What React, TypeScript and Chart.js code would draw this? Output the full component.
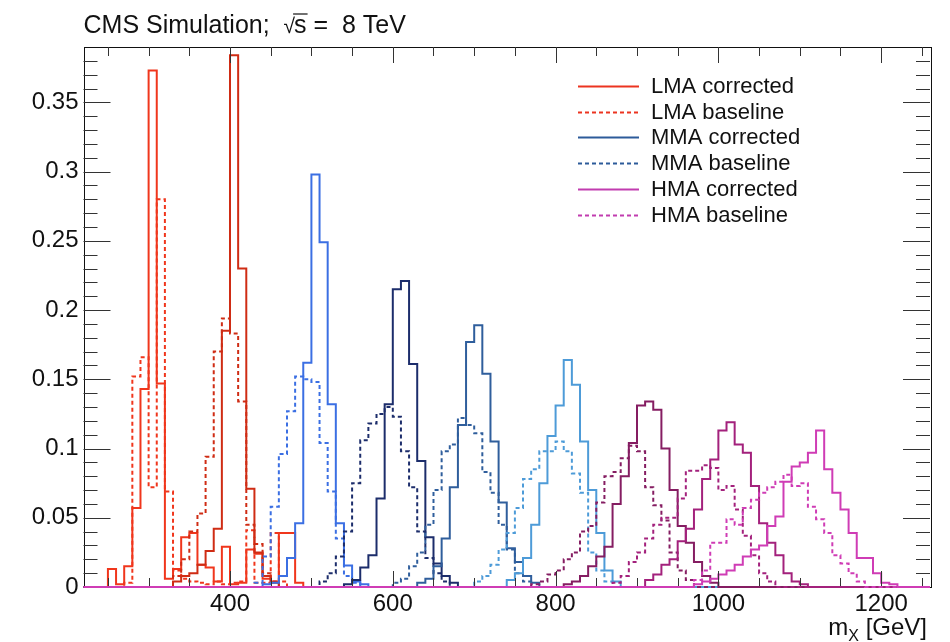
import { useEffect, useRef } from "react";
import { Chart, registerables } from "chart.js";

Chart.register(...registerables);

// Binning of the m_X histograms (GeV)
const X_MIN = 220;
const X_MAX = 1260;
const BIN_WIDTH = 10;
const Y_MAX = 0.39;

const X_TICKS = [400, 600, 800, 1000, 1200];
const Y_TICKS = [0, 0.05, 0.1, 0.15, 0.2, 0.25, 0.3, 0.35];

// Normalised distributions: one value per 10 GeV bin, starting at the *_FROM edge
const LMA300_CORR_FROM = 250;
const LMA300_CORR = [0.013, 0.002, 0.015, 0.057, 0.143, 0.373, 0.147, 0.006, 0.013, 0.036, 0.039, 0.016, 0.014, 0.004, 0.029, 0.002, 0.003, 0.027, 0.024, 0.006, 0.004, 0.039, 0.039, 0.003];
const LMA300_BASE_FROM = 270;
const LMA300_BASE = [0.003, 0.152, 0.166, 0.072, 0.28, 0.069, 0.012, 0.006, 0.004, 0.003, 0.002, 0.004, 0.002, 0.003, 0.004, 0.041, 0.003, 0.003, 0.039, 0.004];

const LMA400_CORR_FROM = 330;
const LMA400_CORR = [0.004, 0.008, 0.01, 0.016, 0.026, 0.042, 0.185, 0.384, 0.23, 0.071, 0.025, 0.008, 0.003];
const LMA400_BASE_FROM = 330;
const LMA400_BASE = [0.008, 0.02, 0.04, 0.053, 0.094, 0.17, 0.194, 0.183, 0.134, 0.045, 0.031, 0.01, 0.004];

const MMA500_CORR_FROM = 440;
const MMA500_CORR = [0.002, 0.003, 0.008, 0.021, 0.046, 0.162, 0.298, 0.249, 0.132, 0.046, 0.0155, 0.004, 0.002];
const MMA500_BASE_FROM = 430;
const MMA500_BASE = [0.003, 0.022, 0.058, 0.096, 0.127, 0.152, 0.15, 0.148, 0.104, 0.069, 0.035, 0.008, 0.003];

const MMA600_CORR_FROM = 540;
const MMA600_CORR = [0.002, 0.005, 0.014, 0.023, 0.064, 0.132, 0.215, 0.221, 0.161, 0.091, 0.036, 0.017, 0.008, 0.003];
const MMA600_BASE_FROM = 510;
const MMA600_BASE = [0.004, 0.01, 0.022, 0.04, 0.075, 0.106, 0.118, 0.125, 0.13, 0.123, 0.098, 0.072, 0.04, 0.021, 0.01, 0.004];

const MMA700_CORR_FROM = 630;
const MMA700_CORR = [0.003, 0.006, 0.015, 0.035, 0.072, 0.117, 0.177, 0.189, 0.154, 0.105, 0.061, 0.028, 0.018, 0.008, 0.003];
const MMA700_BASE_FROM = 600;
const MMA700_BASE = [0.003, 0.006, 0.015, 0.025, 0.045, 0.07, 0.098, 0.103, 0.122, 0.117, 0.111, 0.083, 0.068, 0.045, 0.027, 0.01, 0.004];

const MMA800_CORR_FROM = 740;
const MMA800_CORR = [0.005, 0.01, 0.021, 0.045, 0.075, 0.109, 0.131, 0.164, 0.146, 0.105, 0.07, 0.039, 0.012, 0.004];
const MMA800_BASE_FROM = 700;
const MMA800_BASE = [0.004, 0.008, 0.016, 0.027, 0.039, 0.057, 0.078, 0.085, 0.098, 0.098, 0.105, 0.098, 0.082, 0.068, 0.025, 0.012, 0.004];

const HMA900_CORR_FROM = 810;
const HMA900_CORR = [0.002, 0.004, 0.008, 0.015, 0.022, 0.029, 0.06, 0.08, 0.104, 0.131, 0.134, 0.128, 0.1, 0.07, 0.044, 0.032, 0.018, 0.008, 0.003];
const HMA900_BASE_FROM = 770;
const HMA900_BASE = [0.002, 0.004, 0.009, 0.012, 0.02, 0.025, 0.04, 0.044, 0.061, 0.08, 0.083, 0.093, 0.102, 0.098, 0.072, 0.059, 0.048, 0.025, 0.012, 0.005];

const HMA1000_CORR_FROM = 910;
const HMA1000_CORR = [0.005, 0.009, 0.016, 0.02, 0.033, 0.042, 0.056, 0.078, 0.092, 0.113, 0.119, 0.103, 0.097, 0.073, 0.046, 0.032, 0.023, 0.01, 0.004, 0.002];
const HMA1000_BASE_FROM = 870;
const HMA1000_BASE = [0.003, 0.008, 0.018, 0.025, 0.035, 0.045, 0.05, 0.05, 0.064, 0.084, 0.084, 0.088, 0.086, 0.07, 0.073, 0.056, 0.037, 0.023, 0.01, 0.004];

const HMA1100_CORR_FROM = 970;
const HMA1100_CORR = [0.002, 0.004, 0.006, 0.009, 0.012, 0.016, 0.022, 0.027, 0.03, 0.044, 0.051, 0.076, 0.087, 0.09, 0.097, 0.113, 0.085, 0.068, 0.056, 0.039, 0.021, 0.021, 0.01, 0.003, 0.002];
const HMA1100_BASE_FROM = 970;
const HMA1100_BASE = [0.005, 0.012, 0.032, 0.032, 0.049, 0.045, 0.057, 0.063, 0.068, 0.072, 0.076, 0.081, 0.073, 0.075, 0.058, 0.049, 0.039, 0.023, 0.017, 0.01, 0.004];

// Colours per mass point
const MASS_POINTS = [
  { color: "#f0361c", corrFrom: LMA300_CORR_FROM, corr: LMA300_CORR, baseFrom: LMA300_BASE_FROM, base: LMA300_BASE },
  { color: "#cf2c14", corrFrom: LMA400_CORR_FROM, corr: LMA400_CORR, baseFrom: LMA400_BASE_FROM, base: LMA400_BASE },
  { color: "#3b6fe3", corrFrom: MMA500_CORR_FROM, corr: MMA500_CORR, baseFrom: MMA500_BASE_FROM, base: MMA500_BASE },
  { color: "#1c2d6b", corrFrom: MMA600_CORR_FROM, corr: MMA600_CORR, baseFrom: MMA600_BASE_FROM, base: MMA600_BASE },
  { color: "#2f5e9c", corrFrom: MMA700_CORR_FROM, corr: MMA700_CORR, baseFrom: MMA700_BASE_FROM, base: MMA700_BASE },
  { color: "#4d9bd8", corrFrom: MMA800_CORR_FROM, corr: MMA800_CORR, baseFrom: MMA800_BASE_FROM, base: MMA800_BASE },
  { color: "#851d62", corrFrom: HMA900_CORR_FROM, corr: HMA900_CORR, baseFrom: HMA900_BASE_FROM, base: HMA900_BASE },
  { color: "#a3217c", corrFrom: HMA1000_CORR_FROM, corr: HMA1000_CORR, baseFrom: HMA1000_BASE_FROM, base: HMA1000_BASE },
  { color: "#cf3cb5", corrFrom: HMA1100_CORR_FROM, corr: HMA1100_CORR, baseFrom: HMA1100_BASE_FROM, base: HMA1100_BASE },
];

const LEGEND_ENTRIES = [
  { text: "LMA corrected", color: "#ec3420", dotted: false },
  { text: "LMA baseline", color: "#ec3420", dotted: true },
  { text: "MMA corrected", color: "#2c5b9a", dotted: false },
  { text: "MMA baseline", color: "#2c5b9a", dotted: true },
  { text: "HMA corrected", color: "#c13caf", dotted: false },
  { text: "HMA baseline", color: "#c13caf", dotted: true },
];

const TITLE_LEFT = "CMS Simulation;  ";
const TITLE_RIGHT = " =  8 TeV";
const FONT = '"Liberation Sans", Arial, Helvetica, sans-serif';
const DOT_DASH = [4, 3];

// Step outline of a histogram over the full axis range
function histogramPoints(from: number, values: number[]) {
  const pts: { x: number; y: number }[] = [];
  for (let e = X_MIN; e < X_MAX; e += BIN_WIDTH) {
    const i = Math.round((e - from) / BIN_WIDTH);
    const v = i >= 0 && i < values.length ? values[i] : 0;
    pts.push({ x: e, y: v }, { x: e + BIN_WIDTH, y: v });
  }
  return pts;
}

// ROOT-style frame, inward ticks, title, legend and axis title
const rootDecor = {
  id: "rootDecor",
  beforeDatasetsDraw(chart: any) {
    const { ctx, chartArea: a } = chart;
    ctx.save();
    ctx.strokeStyle = "#111";
    ctx.lineWidth = 1;
    ctx.strokeRect(Math.round(a.left) + 0.5, Math.round(a.top) + 0.5, Math.round(a.right - a.left), Math.round(a.bottom - a.top));
    ctx.restore();
  },
  afterDatasetsDraw(chart: any) {
    const { ctx, chartArea: a, scales } = chart;
    const x = scales.x;
    const y = scales.y;
    ctx.save();
    ctx.strokeStyle = "#333";
    ctx.lineWidth = 1;
    ctx.beginPath();
    for (let v = 250; v <= 1250; v += 50) {
      const px = Math.round(x.getPixelForValue(v)) + 0.5;
      const len = v % 200 === 0 ? 16 : 9;
      ctx.moveTo(px, a.bottom - 1);
      ctx.lineTo(px, a.bottom - len);
      ctx.moveTo(px, a.top);
      ctx.lineTo(px, a.top + len);
    }
    for (let i = 1; i <= 38; i++) {
      const py = Math.round(y.getPixelForValue(i / 100)) + 0.5;
      const len = i % 5 === 0 ? 27 : 14;
      ctx.moveTo(a.left, py);
      ctx.lineTo(a.left + len, py);
      ctx.moveTo(a.right, py);
      ctx.lineTo(a.right - len, py);
    }
    ctx.stroke();
    ctx.restore();
  },
  afterDraw(chart: any) {
    const { ctx, chartArea: a } = chart;
    ctx.save();
    ctx.fillStyle = "#111";
    ctx.textBaseline = "alphabetic";
    ctx.textAlign = "left";

    // title with a radical over s
    ctx.font = `25px ${FONT}`;
    let tx = a.left;
    const ty = 33;
    ctx.fillText(TITLE_LEFT, tx, ty);
    tx += ctx.measureText(TITLE_LEFT).width;
    ctx.font = `21px ${FONT}`;
    ctx.fillText("\u221A", tx, ty);
    const rw = ctx.measureText("\u221A").width;
    ctx.font = `25px ${FONT}`;
    const sx = tx + rw - 1;
    ctx.fillText("s", sx, ty);
    const sw = ctx.measureText("s").width;
    ctx.strokeStyle = "#111";
    ctx.lineWidth = 1.2;
    ctx.beginPath();
    ctx.moveTo(sx - 1, ty - 19);
    ctx.lineTo(sx + sw + 1, ty - 19);
    ctx.stroke();
    ctx.fillText(TITLE_RIGHT, sx + sw, ty);

    // legend
    ctx.font = `22px ${FONT}`;
    ctx.textBaseline = "middle";
    LEGEND_ENTRIES.forEach((e, i) => {
      const ly = 86 + i * 25.7;
      ctx.strokeStyle = e.color;
      ctx.lineWidth = 2;
      ctx.setLineDash(e.dotted ? DOT_DASH : []);
      ctx.beginPath();
      ctx.moveTo(578, Math.round(ly) + 0.5);
      ctx.lineTo(639, Math.round(ly) + 0.5);
      ctx.stroke();
      ctx.setLineDash([]);
      ctx.fillStyle = "#111";
      ctx.fillText(e.text, 651, ly + 1);
    });

    // x axis title m_X [GeV], right aligned at the frame edge
    ctx.textBaseline = "alphabetic";
    ctx.font = `24px ${FONT}`;
    const mW = ctx.measureText("m").width;
    const unitW = ctx.measureText(" [GeV]").width;
    ctx.font = `16px ${FONT}`;
    const subW = ctx.measureText("X").width;
    const right = a.right - 3;
    const start = right - mW - subW - unitW;
    ctx.font = `24px ${FONT}`;
    ctx.fillText("m", start, 635);
    ctx.font = `16px ${FONT}`;
    ctx.fillText("X", start + mW, 641);
    ctx.font = `24px ${FONT}`;
    ctx.fillText(" [GeV]", start + mW + subW, 635);
    ctx.restore();
  },
};

export default function App() {
  const canvasRef = useRef<HTMLCanvasElement | null>(null);

  useEffect(() => {
    const canvas = canvasRef.current;
    if (!canvas) return;

    const drawOrder: any[] = [];
    MASS_POINTS.forEach((m) => {
      drawOrder.push({
        data: histogramPoints(m.baseFrom, m.base),
        borderColor: m.color,
        borderWidth: 2,
        borderDash: DOT_DASH,
      });
      drawOrder.push({
        data: histogramPoints(m.corrFrom, m.corr),
        borderColor: m.color,
        borderWidth: 2,
        borderDash: [],
      });
    });
    // Chart.js paints dataset 0 last, so reverse to keep the high-mass curves on top
    const datasets = drawOrder.reverse().map((d) => ({
      ...d,
      pointRadius: 0,
      fill: false,
      tension: 0,
      borderCapStyle: "butt",
      borderJoinStyle: "miter",
      clip: { left: 0, top: 0, right: 0, bottom: 3 },
    }));

    const chart = new Chart(canvas, {
      type: "line",
      data: { datasets },
      options: {
        responsive: false,
        animation: false,
        devicePixelRatio: 1,
        layout: { padding: { left: 0, top: 47, right: 20, bottom: 0 } },
        plugins: { legend: { display: false }, title: { display: false }, tooltip: { enabled: false } },
        scales: {
          x: {
            type: "linear",
            min: X_MIN,
            max: X_MAX,
            grid: { display: false, drawTicks: false },
            border: { display: false },
            afterBuildTicks: (s: any) => {
              s.ticks = X_TICKS.map((v) => ({ value: v }));
            },
            afterFit: (s: any) => {
              s.height = 55;
            },
            ticks: {
              padding: 3,
              maxRotation: 0,
              color: "#111",
              font: { family: FONT, size: 24 },
              callback: (v: any) => String(v),
            },
          },
          y: {
            type: "linear",
            min: 0,
            max: Y_MAX,
            grid: { display: false, drawTicks: false },
            border: { display: false },
            afterBuildTicks: (s: any) => {
              s.ticks = Y_TICKS.map((v) => ({ value: v }));
            },
            afterFit: (s: any) => {
              s.width = 83.5;
            },
            ticks: {
              padding: 5,
              color: "#111",
              font: { family: FONT, size: 24 },
              callback: (v: any) => String(Number(Number(v).toFixed(2))),
            },
          },
        },
      },
      plugins: [rootDecor],
    } as any);

    return () => chart.destroy();
  }, []);

  return (
    <div style={{ position: "fixed", left: 0, top: 0, width: 950, height: 642, background: "#fff" }}>
      <canvas ref={canvasRef} width={950} height={642} style={{ width: 950, height: 642, display: "block" }} />
    </div>
  );
}
